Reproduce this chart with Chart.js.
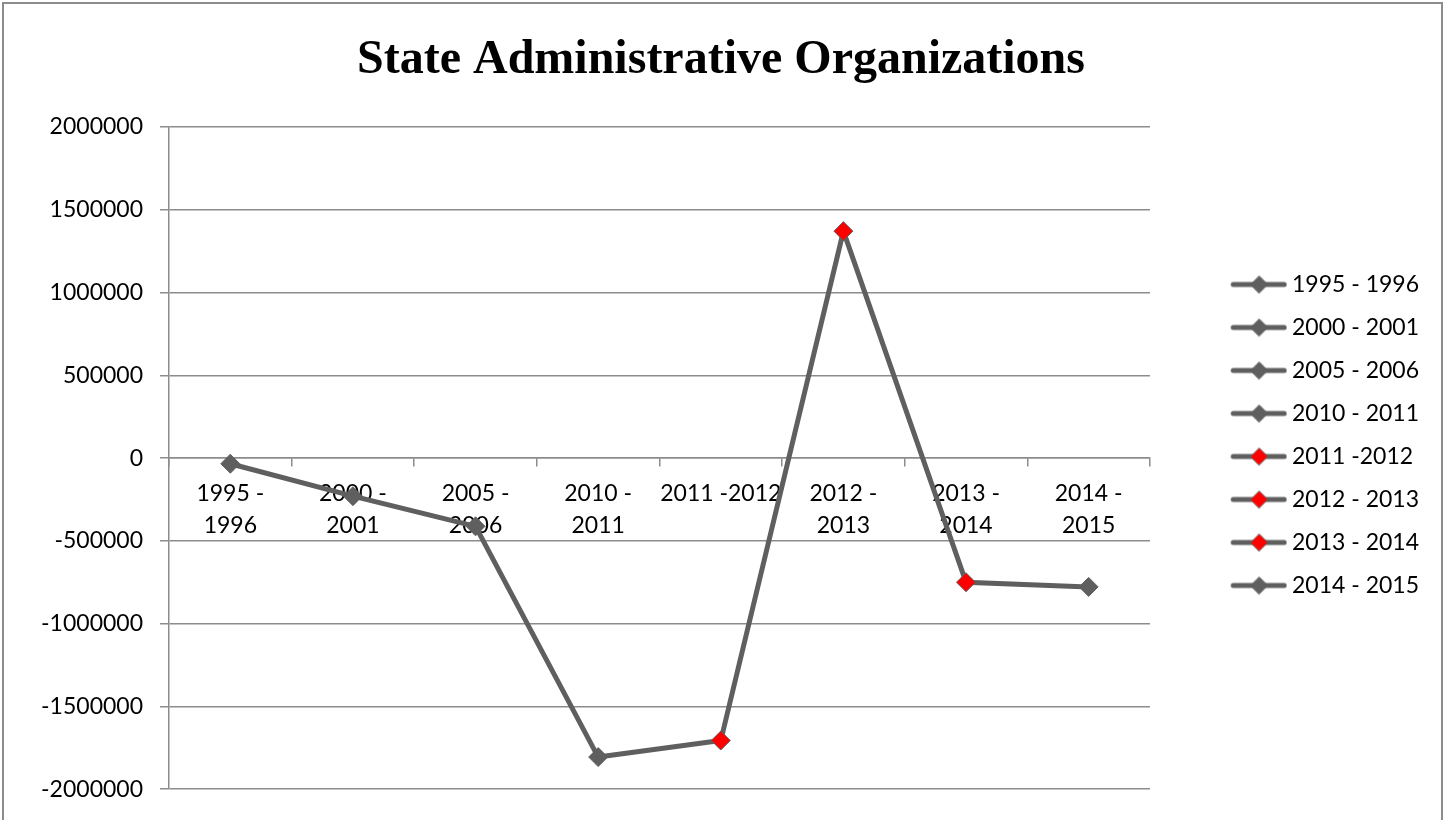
<!DOCTYPE html>
<html>
<head>
<meta charset="utf-8">
<script src="https://cdn.jsdelivr.net/npm/chart.js@4.4.1/dist/chart.umd.min.js"></script>
<style>
    html, body { margin: 0; padding: 0; background: #fff; overflow: hidden; }
    #wrap { position: relative; width: 1451px; height: 820px; }
    #frame { position: absolute; left: 2px; top: 2px; width: 1441px; height: 840px; border: 2px solid #8c8c8c; box-sizing: border-box; }
    #chart { position: absolute; left: 0; top: 0; }
</style>
</head>
<body>
<div id="wrap">
    <div id="frame"></div>
    <canvas id="chart" width="1451" height="820"></canvas>
</div>
<script>
// Periods (legend names) and the two-line labels under the zero line
const periods = ['1995 - 1996', '2000 - 2001', '2005 - 2006', '2010 - 2011', '2011 -2012', '2012 - 2013', '2013 - 2014', '2014 - 2015'];
const tickLabels = [['1995 -', '1996'], ['2000 -', '2001'], ['2005 -', '2006'], ['2010 -', '2011'], '2011 -2012', ['2012 -', '2013'], ['2013 -', '2014'], ['2014 -', '2015']];
const values = [-34000, -230000, -412000, -1806000, -1706000, 1371000, -750000, -778000];
const redPoints = [false, false, false, false, true, true, true, false];

const yMin = -2000000;
const yMax = 2000000;
const yStep = 500000;

const LINE = '#5f5f5f';
const GRID = '#8c8c8c';
const FONT = 'Lato';

const pointFill = redPoints.map(r => r ? '#ff0000' : LINE);

// legend swatch: line with diamond, padded on the left to leave the gap after the plot
function swatch(fill) {
    const c = document.createElement('canvas');
    c.width = 124;
    c.height = 24;
    const ctx = c.getContext('2d');
    ctx.strokeStyle = LINE;
    ctx.lineWidth = 5;
    ctx.lineCap = 'round';
    ctx.beginPath();
    ctx.moveTo(70, 12);
    ctx.lineTo(121, 12);
    ctx.stroke();
    const cx = 96, r = 8.5;
    ctx.beginPath();
    ctx.moveTo(cx - r, 12);
    ctx.lineTo(cx, 12 - r);
    ctx.lineTo(cx + r, 12);
    ctx.lineTo(cx, 12 + r);
    ctx.closePath();
    ctx.fillStyle = fill;
    ctx.fill();
    ctx.lineWidth = 1;
    ctx.strokeStyle = LINE;
    ctx.stroke();
    return c;
}
const swatches = pointFill.map(f => swatch(f));

new Chart(document.getElementById('chart'), {
    type: 'line',
    data: {
        labels: tickLabels,
        datasets: [{
            data: values,
            borderColor: LINE,
            borderWidth: 5,
            tension: 0,
            pointStyle: 'rectRot',
            pointRadius: 9.5,
            pointHoverRadius: 9.5,
            pointBackgroundColor: pointFill,
            pointBorderColor: LINE,
            pointBorderWidth: 1
        }]
    },
    options: {
        responsive: false,
        animation: false,
        devicePixelRatio: 1,
        layout: { padding: { left: 13, top: 4, right: 22, bottom: 30 } },
        plugins: {
            tooltip: { enabled: false },
            title: {
                display: true,
                text: 'State Administrative Organizations',
                color: '#000',
                font: { family: "'Liberation Serif', 'Times New Roman', serif", size: 48, weight: 'bold', lineHeight: 1.2 },
                padding: { top: 28, bottom: 37.4 }
            },
            legend: {
                position: 'right',
                align: 'center',
                onClick: null,
                // empty title only pushes the entries down a little
                title: { display: true, text: ' ', font: { size: 10, lineHeight: 1 }, padding: { top: 66, bottom: 0 } },
                labels: {
                    color: '#000',
                    font: { family: FONT, size: 23 },
                    usePointStyle: true,
                    pointStyleWidth: 110.5,
                    padding: 20,
                    generateLabels: () => periods.map((p, i) => ({
                        text: p,
                        fontColor: '#000',
                        pointStyle: swatches[i],
                        fillStyle: pointFill[i],
                        strokeStyle: LINE,
                        lineWidth: 0,
                        hidden: false,
                        datasetIndex: 0,
                        index: i
                    }))
                }
            }
        },
        scales: {
            x: {
                type: 'category',
                position: { y: 0 },
                offset: true,
                grid: { drawOnChartArea: false, drawTicks: true, tickLength: 8, offset: true, color: GRID, lineWidth: 1.5 },
                border: { color: GRID, width: 1.5 },
                ticks: {
                    color: '#000',
                    font: { family: FONT, size: 23, lineHeight: 1.4 },
                    padding: 11,
                    maxRotation: 0,
                    autoSkip: false
                }
            },
            y: {
                min: yMin,
                max: yMax,
                afterFit: scale => { scale.width = 156; },
                grid: { color: GRID, lineWidth: 1.5, tickLength: 9 },
                border: { color: GRID, width: 1.5 },
                ticks: {
                    stepSize: yStep,
                    color: '#000',
                    font: { family: FONT, size: 23 },
                    padding: 17,
                    callback: v => String(v)
                }
            }
        }
    }
});
</script>
</body>
</html>
